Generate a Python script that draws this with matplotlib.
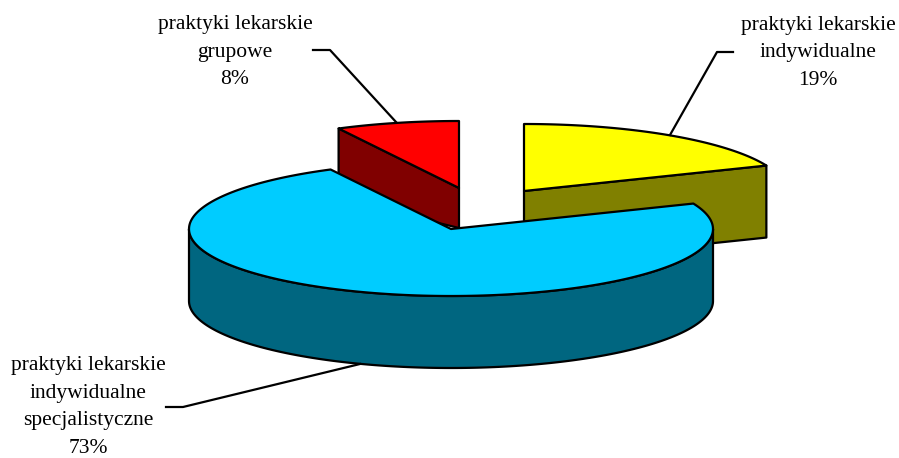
import numpy as np
import matplotlib
matplotlib.use('Agg')
import matplotlib.pyplot as plt
from matplotlib.patches import Polygon

plt.rcParams['font.family'] = 'Liberation Serif'

labels = ['praktyki lekarskie\nindywidualne\n19%',
          'praktyki lekarskie\nindywidualne\nspecjalistyczne\n73%',
          'praktyki lekarskie\ngrupowe\n8%']
shares = [18.8, 73.6, 7.6]
top_colors = ['#FFFF00', '#00CCFF', '#FF0000']
side_colors = ['#808000', '#006680', '#800000']

# projected pie geometry, in pixels
rx = 262
ry = 67
depth = 72
centers = [(524, 191), (451, 229), (459, 188)]
text_pos = [(818, 53), (88, 407), (235, 52)]
leaders = [[(733, 52), (717, 52), (670, 135)],
           [(166, 407), (183, 407), (360, 364)],
           [(313, 50), (330, 50), (396, 122)]]

fig = plt.figure(figsize=(8.99, 4.58), dpi=100)
ax = fig.add_axes([0, 0, 1, 1])
ax.set_xlim(0, 899)
ax.set_ylim(458, 0)
ax.axis('off')


def rim(cx, cy, a, b, dy=0):
    t = np.radians(np.linspace(a, b, 200))
    return np.column_stack([cx + rx * np.sin(t), cy - ry * np.cos(t) + dy])


def face(pts, color, z):
    ax.add_patch(Polygon(pts, closed=True, facecolor=color, edgecolor='black',
                         linewidth=1.6, joinstyle='round', zorder=z))


edges = np.concatenate([[0], np.cumsum(shares)]) * 3.6
# back slices first, the big one goes on top
for i, z in [(2, 1), (0, 2), (1, 3)]:
    cx, cy = centers[i]
    a, b = edges[i], edges[i + 1]
    apex = np.array([cx, cy])
    if i == 0:
        # cut face on the far end of the slice
        p = rim(cx, cy, b, b)[0]
        face([apex, p, p + [0, depth], apex + [0, depth]], side_colors[i], z)
    if i == 2:
        # cut face on the near end of the slice
        p = rim(cx, cy, a, a)[0]
        face([apex, p, p + [0, depth - 2], apex + [0, depth - 32]], side_colors[i], z)
    if i == 1:
        # outer wall, only the front half shows
        upper = rim(cx, cy, max(a, 90), min(b, 270))
        lower = rim(cx, cy, max(a, 90), min(b, 270), depth)
        face(np.vstack([upper, lower[::-1]]), side_colors[i], z)
    face(np.vstack([[apex], rim(cx, cy, a, b)]), top_colors[i], z + 0.5)

for pts in leaders:
    xs, ys = zip(*pts)
    ax.plot(xs, ys, color='black', linewidth=1.6, zorder=5)

for lab, (x, y) in zip(labels, text_pos):
    ax.text(x, y, lab, ha='center', va='center', fontsize=15.5,
            linespacing=1.6, zorder=6)

fig.savefig('out.png', dpi=100)
